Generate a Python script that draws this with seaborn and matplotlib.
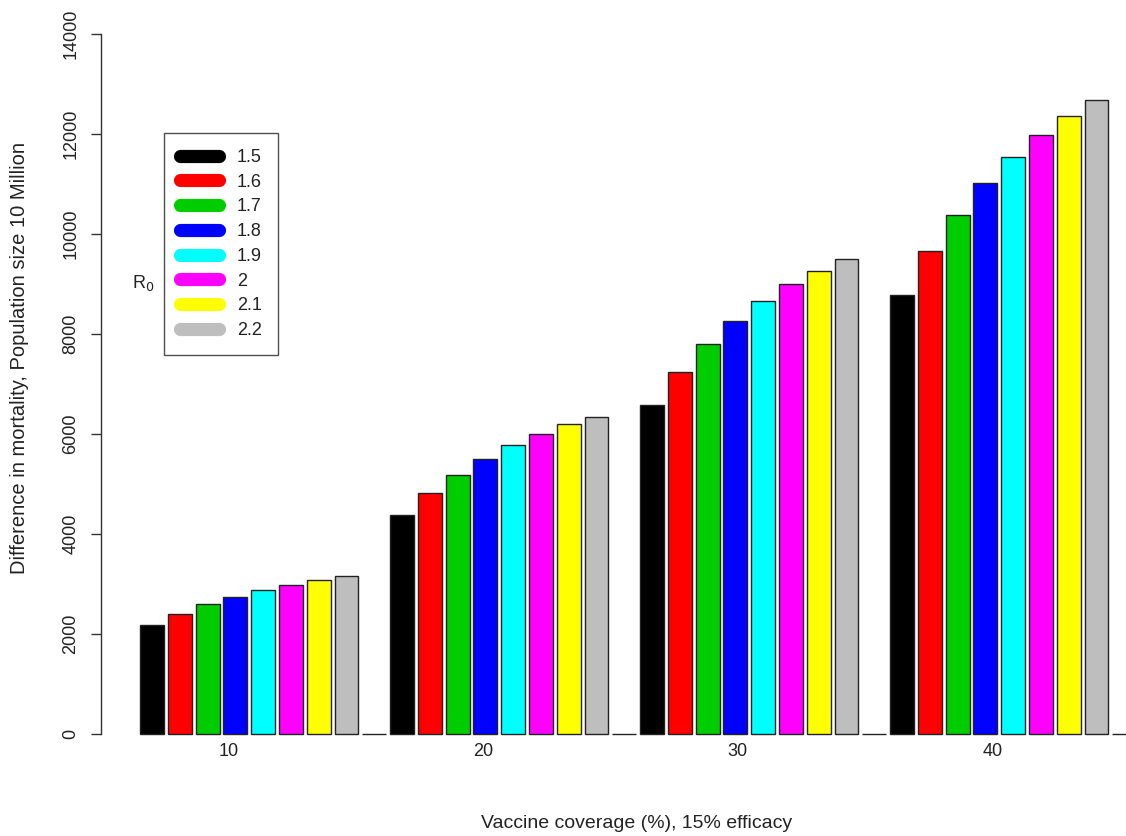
import numpy as np
import pandas as pd
import matplotlib
matplotlib.use("Agg")
import matplotlib.pyplot as plt
import seaborn as sns
from matplotlib.lines import Line2D

# ---------------- data ----------------
coverage = ["10", "20", "30", "40"]
r0_levels = ["1.5", "1.6", "1.7", "1.8", "1.9", "2", "2.1", "2.2"]
cov10 = [2190, 2410, 2600, 2750, 2890, 2990, 3080, 3160]
cov20 = [4380, 4810, 5180, 5500, 5770, 5990, 6190, 6330]
cov30 = [6570, 7230, 7790, 8260, 8650, 8990, 9250, 9500]
cov40 = [8770, 9650, 10380, 11010, 11530, 11970, 12360, 12670]
colors = ["#000000", "#FF0000", "#00CD00", "#0000FF",
          "#00FFFF", "#FF00FF", "#FFFF00", "#BEBEBE"]

groups = [cov10, cov20, cov30, cov40]
slots = len(r0_levels) + 1  # one empty (zero) bar per group acts as spacer

rows = []
for g, vals in enumerate(groups):
    for k, v in enumerate(vals):
        rows.append({"pos": g * slots + k, "value": v, "R0": r0_levels[k]})
    rows.append({"pos": g * slots + len(r0_levels), "value": 0.0, "R0": "spacer"})
df = pd.DataFrame(rows)

palette = dict(zip(r0_levels, colors))
palette["spacer"] = "#FFFFFF"

# ---------------- figure ----------------
sns.set_style("white")
plt.rcParams["font.family"] = ["Liberation Sans", "DejaVu Sans"]
text_color = "#222222"

W, H = 1126, 836
fig = plt.figure(figsize=(W / 100, H / 100), dpi=100)
ax_left, ax_right, ax_top, ax_bottom = 101, 1126, 24, 744
ax = fig.add_axes([ax_left / W, 1 - ax_bottom / H,
                   (ax_right - ax_left) / W, (ax_bottom - ax_top) / H])

sns.barplot(data=df, x="pos", y="value", hue="R0", palette=palette,
            hue_order=r0_levels + ["spacer"], native_scale=True, dodge=False,
            width=0.86, edgecolor="#222222", linewidth=1.0, saturation=1,
            legend=False, errorbar=None, ax=ax)

ax.set_xlim(-1.836, 35.06)
ax.set_ylim(-200, 14200)

for s in ["top", "right", "bottom"]:
    ax.spines[s].set_visible(False)
ax.spines["left"].set_bounds(0, 14000)
ax.spines["left"].set_color("#333333")
ax.spines["left"].set_linewidth(1.0)

ax.set_yticks(np.arange(0, 14001, 2000))
ax.set_yticklabels([str(v) for v in range(0, 14001, 2000)], rotation=90,
                   va="center", color=text_color, fontsize=13)
ax.tick_params(axis="y", left=True, length=7.5, width=1.0, color="#333333",
               pad=8, direction="out")

label_first, label_step = 2.77, 9.16
ax.set_xticks([label_first + i * label_step for i in range(len(coverage))])
ax.set_xticklabels(coverage, color=text_color, fontsize=13)
ax.tick_params(axis="x", bottom=False, length=0, pad=-1)

ax.set_xlabel("")
ax.set_ylabel("")
fig.text(637 / W, 1 - 823 / H, "Vaccine coverage (%), 15% efficacy",
         ha="center", va="center", fontsize=14, color=text_color)
fig.text(20 / W, 1 - 358 / H,
         "Difference in mortality, Population size 10 Million",
         ha="center", va="center", rotation=90, fontsize=14.5, color=text_color)

handles = [Line2D([0], [0], color=c, lw=9.5, solid_capstyle="round")
           for c in colors]
leg = fig.legend(handles, r0_levels, loc="upper left",
                 bbox_to_anchor=(164 / W, 1 - 133 / H), borderaxespad=0,
                 frameon=True, fancybox=False, fontsize=13,
                 handlelength=2.15, handletextpad=1.0, labelspacing=0.43,
                 borderpad=0.88)
leg.get_frame().set_edgecolor("#222222")
leg.get_frame().set_linewidth(1.0)
for t in leg.get_texts():
    t.set_color(text_color)

fig.text(143 / W, 1 - 283 / H, "R$_0$", ha="center", va="center",
         fontsize=13, color=text_color)

fig.savefig("out.png", dpi=100)
